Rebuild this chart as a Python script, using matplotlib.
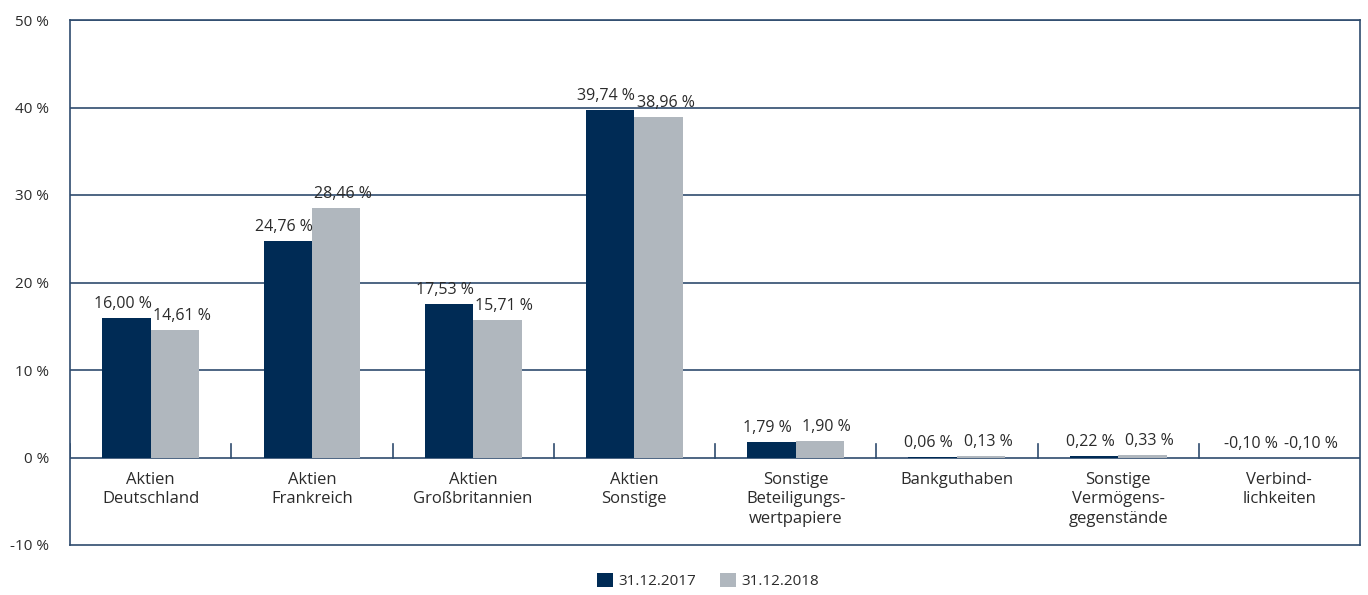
import matplotlib
matplotlib.use("Agg")
import matplotlib.pyplot as plt
import numpy as np

plt.rcParams['font.family'] = ['Open Sans', 'DejaVu Sans']

categories = ["Aktien\nDeutschland", "Aktien\nFrankreich", "Aktien\nGroßbritannien",
              "Aktien\nSonstige", "Sonstige\nBeteiligungs-\nwertpapiere", "Bankguthaben",
              "Sonstige\nVermögens-\ngegenstände", "Verbind-\nlichkeiten"]
series_names = ["31.12.2017", "31.12.2018"]
values_2017 = [16.00, 24.76, 17.53, 39.74, 1.79, 0.06, 0.22, -0.10]
values_2018 = [14.61, 28.46, 15.71, 38.96, 1.90, 0.13, 0.33, -0.10]
yticks = [-10, 0, 10, 20, 30, 40, 50]

dark = "#002B55"
grey = "#B0B7BE"
line = "#2F4C6E"
txt = "#2b2b2b"

fig = plt.figure(figsize=(13.68, 5.95), dpi=100)
ax = fig.add_axes([70/1368, 1-545/595, 1290/1368, 525/595])

x = np.arange(len(categories))
w = 0.3
b1 = ax.bar(x - w/2, values_2017, w, color=dark, label=series_names[0], zorder=3)
b2 = ax.bar(x + w/2, values_2018, w, color=grey, label=series_names[1], zorder=3)

def fmt(v):
    return f"{v:.2f}".replace(".", ",") + " %"

for xs, vals, dx in ((x - w/2, values_2017, -4), (x + w/2, values_2018, 7)):
    for xi, v in zip(xs, vals):
        ax.annotate(fmt(v), (xi, max(v, 0)), xytext=(dx, 6), textcoords="offset pixels",
                    ha="center", va="bottom", fontsize=11.5, color=txt, zorder=4)

ax.set_xlim(-0.5, len(categories) - 0.5)
ax.set_ylim(-10, 50)
ax.set_yticks(yticks)
ax.set_yticklabels([f"{t} %" for t in yticks], fontsize=11, color=txt)
ax.tick_params(axis='y', length=0, pad=15)
ax.set_xticks([])
for t in yticks[1:]:
    ax.axhline(t, color=line, lw=1.2, zorder=2)

for s in ax.spines.values():
    s.set_color(line)
    s.set_linewidth(1.2)

# category boundary ticks above zero line
for b in np.arange(0.5, len(categories) - 0.5, 1.0):
    ax.plot([b, b], [0, 1.5], color=line, lw=1.2, zorder=2)
ax.plot([-0.5, -0.5], [0, 1.5], color=line, lw=1.2)

for xi, c in zip(x, categories):
    ax.annotate(c, (xi, 0), xytext=(0, -14), textcoords="offset pixels",
                ha="center", va="top", fontsize=12, color=txt, linespacing=1.3)

leg = fig.legend(handles=[b1, b2], labels=series_names, loc="center",
                 bbox_to_anchor=(708/1368, 1 - 581/595), ncol=2, frameon=False,
                 fontsize=11, handlelength=1.0, handleheight=1.0,
                 handletextpad=0.35, columnspacing=1.6)
for t in leg.get_texts():
    t.set_color(txt)

fig.savefig("out.png", dpi=100)
